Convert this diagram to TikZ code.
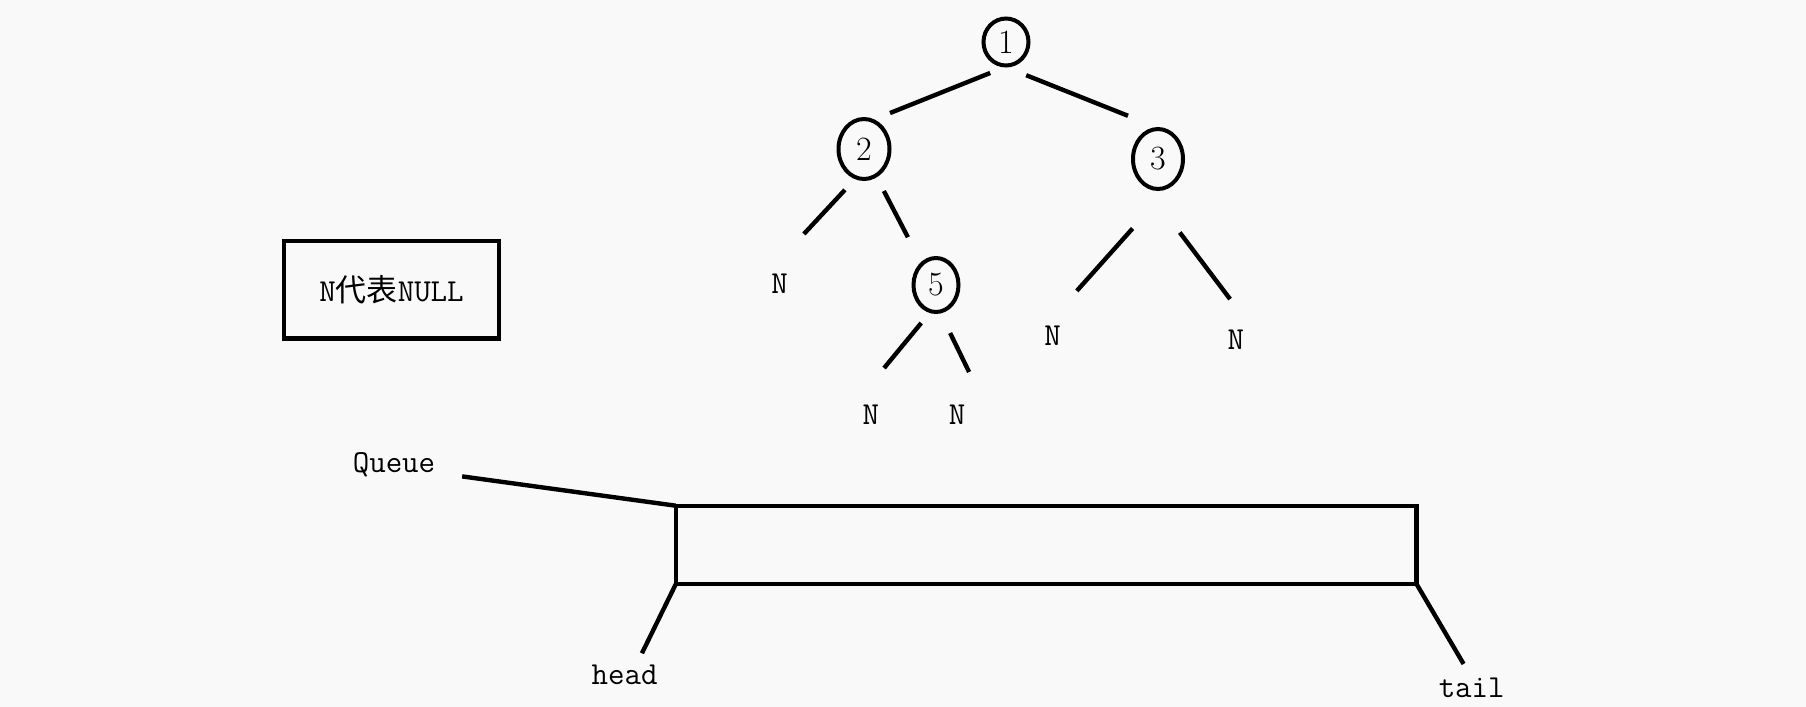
\documentclass[tikz,border=0pt]{standalone}
\usepackage{fontspec}
\newfontfamily\cjkfont{Noto Sans CJK SC}
\usetikzlibrary{positioning, shapes.geometric}
\definecolor{fondo}{HTML}{F9F9F9}

\begin{document}
\begin{tikzpicture}[
  x=0.5pt, y=-0.5pt,
  nodo/.style={ellipse, draw, line width=2pt, inner sep=0pt, outer sep=0pt,
               font=\fontsize{17}{20}\selectfont},
  nulo/.style={font=\ttfamily\fontsize{16}{18}\selectfont, inner sep=0pt, outer sep=0pt},
  etiq/.style={font=\ttfamily\fontsize{16}{18}\selectfont, inner sep=0pt, outer sep=0pt, anchor=base},
  caja/.style={draw, line width=2.2pt, inner sep=0pt, outer sep=0pt},
  rama/.style={line width=2.2pt}
]
  % Fondo y marco de la imagen
  \fill[fondo] (0,0) rectangle (1806,707);
  \useasboundingbox (0,0) rectangle (1806,707);

  % --- Nodos del árbol ---
  \node[nodo, minimum width=22.5pt, minimum height=23.5pt] (n1) at (1006,42)  {1};
  \node[nodo, minimum width=25.5pt, minimum height=30pt]   (n2) at (864,149)  {2};
  \node[nodo, minimum width=25pt,   minimum height=30pt]   (n3) at (1158,159) {3};
  \node[nodo, minimum width=22.5pt, minimum height=27pt]   (n5) at (936,285)  {5};

  % Hojas vacías (N)
  \node[nulo] (n2L) at (779.7,283.7)  {N};
  \node[nulo] (n5L) at (870.8,414.5)  {N};
  \node[nulo] (n5R) at (957,414.5)    {N};
  \node[nulo] (n3L) at (1052.5,335.7) {N};
  \node[nulo] (n3R) at (1235.8,339.5) {N};

  % --- Ramas ---
  \draw[rama, shorten <=10.5pt, shorten >=9.9pt]  (n1.279) -- (n2.75);
  \draw[rama, shorten <=15.2pt, shorten >=18.4pt] (n1.250) -- (n3.82);
  \draw[rama, shorten <=8.4pt,  shorten >=27.3pt] (n2.255) -- ([xshift=-6.5pt]n2L.north);
  \draw[rama, shorten <=8.7pt,  shorten >=15.1pt] (n2.294) -- (n5.124);
  \draw[rama, shorten <=7.6pt,  shorten >=23.8pt] (n5.259) -- ([xshift=-8.5pt]n5L.north);
  \draw[rama, shorten <=11.9pt, shorten >=18.2pt] (n5.278) -- ([xshift=14pt]n5R.north);
  \draw[rama, shorten <=31.9pt, shorten >=23.5pt] (n3.308) -- ([xshift=-3.5pt]n3L.north);
  \draw[rama, shorten <=32.8pt, shorten >=19.2pt] (n3.230) -- ([xshift=8.7pt]n3R.north);

  % --- Leyenda ---
  \node[caja, minimum width=107.7pt, minimum height=48.75pt,
        font=\ttfamily\fontsize{16}{18}\selectfont] (leyenda) at (391.5,289.6)
    {N{\cjkfont\fontsize{15.5}{18}\selectfont 代表}NULL};

  % --- Cola ---
  \node[caja, minimum width=370.4pt, minimum height=39.2pt] (cola) at (1046.2,544.9) {};
  \node[etiq] (qlbl) at (394,472.7)    {Queue};
  \node[etiq] (head) at (624.7,684.3)  {head};
  \node[etiq] (tail) at (1471.7,697.3) {tail};

  \draw[rama, shorten <=13.6pt] (qlbl.base east) -- (cola.north west);
  \draw[rama, shorten >=6.4pt]  (cola.south west) -- ([xshift=5.8pt]head.north);
  \draw[rama, shorten >=8pt]    (cola.south east) -- (tail.north);
\end{tikzpicture}
\end{document}
